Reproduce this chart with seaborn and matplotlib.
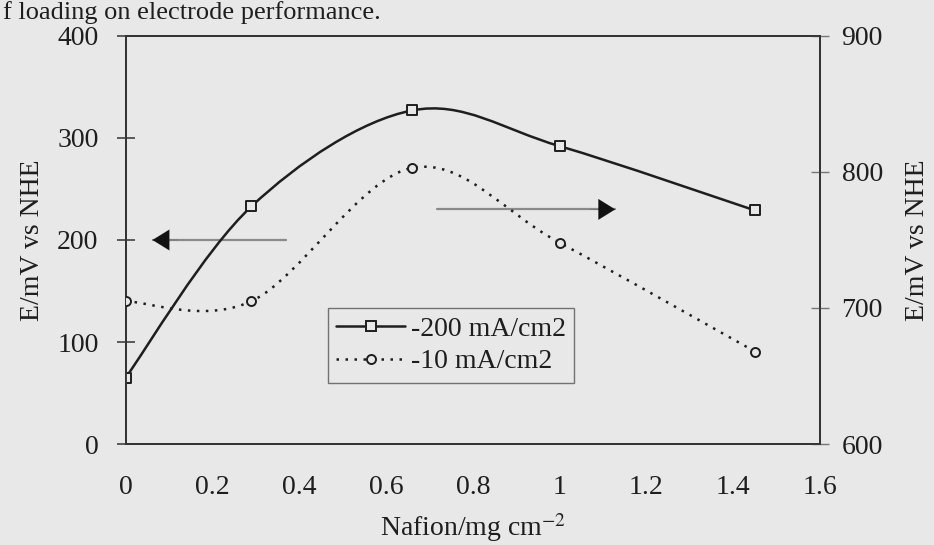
import numpy as np
import pandas as pd
import seaborn as sns
import matplotlib
matplotlib.use("Agg")
import matplotlib.pyplot as plt
from matplotlib.path import Path
from matplotlib.patches import PathPatch
from matplotlib.lines import Line2D

# ---- data ----
nafion = [0.0, 0.29, 0.66, 1.0, 1.45]
e_200 = [65, 233, 327, 292, 229]        # left axis, -200 mA/cm2
e_10 = [705, 705, 803, 748, 668]        # right axis, -10 mA/cm2
x_ticks = [0, 0.2, 0.4, 0.6, 0.8, 1.0, 1.2, 1.4, 1.6]
x_tick_labels = ["0", "0.2", "0.4", "0.6", "0.8", "1", "1.2", "1.4", "1.6"]
left_ticks = [0, 100, 200, 300, 400]
right_ticks = [600, 700, 800, 900]
series_labels = ["-200 mA/cm2", "-10 mA/cm2"]

BG = "#e8e8e8"
INK = "#1e1e1e"
FONT = "Liberation Serif"
FS = 20

sns.set_theme(style="white")
plt.rcParams["font.family"] = [FONT, "DejaVu Serif"]
plt.rcParams["mathtext.fontset"] = "stix"

fig = plt.figure(figsize=(9.34, 5.45), dpi=100, facecolor=BG)
ax = fig.add_axes([0.1345, 0.1853, 0.7435, 0.7487], facecolor=BG)
ax2 = ax.twinx()


def smooth_path(xs, ys):
    """Excel-style smoothed line as cubic Bezier segments through the data points."""
    pts = list(zip(xs, ys))
    n = len(pts)
    verts = [pts[0]]
    codes = [Path.MOVETO]
    for i in range(n - 1):
        p0 = pts[i - 1] if i > 0 else pts[i]
        p1 = pts[i]
        p2 = pts[i + 1]
        p3 = pts[i + 2] if i + 2 < n else pts[i + 1]
        c1 = (p1[0] + (p2[0] - p0[0]) / 6, p1[1] + (p2[1] - p0[1]) / 6)
        c2 = (p2[0] - (p3[0] - p1[0]) / 6, p2[1] - (p3[1] - p1[1]) / 6)
        verts += [c1, c2, p2]
        codes += [Path.CURVE4] * 3
    return Path(verts, codes)


df = pd.DataFrame({"nafion": nafion, "e200": e_200, "e10": e_10})

# smoothed lines
ax.add_patch(PathPatch(smooth_path(nafion, e_200), fill=False, edgecolor=INK,
                       lw=1.8, zorder=3))
ax2.add_patch(PathPatch(smooth_path(nafion, e_10), fill=False, edgecolor=INK,
                        lw=1.8, linestyle=(0, (1, 2.6)), zorder=3))

# markers
sns.scatterplot(data=df, x="nafion", y="e200", ax=ax, marker="s", s=42,
                facecolor=BG, edgecolor=INK, linewidth=1.4, zorder=5, legend=False)
sns.scatterplot(data=df, x="nafion", y="e10", ax=ax2, marker="o", s=42,
                facecolor=BG, edgecolor=INK, linewidth=1.4, zorder=5, legend=False)

# axes limits / ticks
ax.set_xlim(0, 1.6)
ax.set_ylim(0, 400)
ax2.set_ylim(600, 900)
ax.set_xticks(x_ticks)
ax.set_xticklabels(x_tick_labels)
ax.set_yticks(left_ticks)
ax2.set_yticks(right_ticks)
ax.set_xlabel("Nafion/mg cm$^{-2}$", fontsize=FS, color=INK, labelpad=8)
ax.set_ylabel("E/mV vs NHE", fontsize=FS, color=INK, labelpad=9)
ax2.set_ylabel("E/mV vs NHE", fontsize=FS, color=INK, labelpad=16)

for a in (ax, ax2):
    for sp in a.spines.values():
        sp.set_color("#333333")
        sp.set_linewidth(1.3)
ax.tick_params(axis="both", direction="inout", length=13, width=1.1,
               colors="#333333", labelcolor=INK, labelsize=FS)
ax.tick_params(axis="y", pad=13)
ax.tick_params(axis="x", pad=16)
ax2.tick_params(axis="y", direction="inout", length=13, width=1.0,
                colors="#777777", labelcolor=INK, labelsize=FS, pad=9)

# arrows indicating axes
ax.plot([0.062, 0.369], [200, 200], color="#8a8a8a", lw=1.6, zorder=2)
ax.annotate("", xy=(0.062, 200), xytext=(0.12, 200),
            arrowprops=dict(arrowstyle="-|>,head_length=1.0,head_width=0.62",
                            color="#111111", lw=0.1, shrinkA=0, shrinkB=0))
ax.plot([0.717, 1.128], [230, 230], color="#8a8a8a", lw=1.6, zorder=2)
ax.annotate("", xy=(1.128, 230), xytext=(1.07, 230),
            arrowprops=dict(arrowstyle="-|>,head_length=1.0,head_width=0.62",
                            color="#111111", lw=0.1, shrinkA=0, shrinkB=0))

# legend
handles = [
    Line2D([], [], color=INK, lw=1.8, marker="s", ms=6.5, mfc=BG, mec=INK, mew=1.4),
    Line2D([], [], color=INK, lw=1.8, linestyle=(0, (1, 2.6)), marker="o", ms=6.5,
           mfc=BG, mec=INK, mew=1.4),
]
leg = ax2.legend(handles, series_labels, loc="upper left",
                 bbox_to_anchor=(0.291, 0.333), fontsize=FS, frameon=True,
                 fancybox=False, handlelength=2.5, handletextpad=0.2,
                 borderpad=0.3, labelspacing=0.25, borderaxespad=0)
leg.get_frame().set_facecolor(BG)
leg.get_frame().set_edgecolor("#555555")
leg.get_frame().set_linewidth(1.0)
for t in leg.get_texts():
    t.set_color(INK)

# caption text at top of the scan
fig.text(0.003, 1 - 19 / 545, "f loading on electrode performance.",
         fontsize=19, color=INK, va="baseline", ha="left")

fig.savefig("out.png", dpi=100, facecolor=BG)
